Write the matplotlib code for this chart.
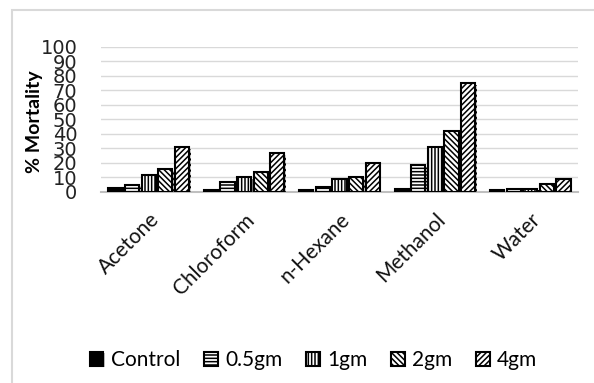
import numpy as np
import matplotlib.pyplot as plt
import matplotlib.patheffects as pe
from matplotlib.patches import Rectangle

# ===== DONNÉES =====
solvants = ["Acetone", "Chloroform", "n-Hexane", "Methanol", "Water"]
doses = ["Control", "0.5gm", "1gm", "2gm", "4gm"]
control = [2.5, 1, 1.2, 2, 0.8]
dose_05 = [4.8, 6.4, 3, 18, 2]
dose_1 = [11.7, 10, 8.8, 30.4, 2]
dose_2 = [15.4, 13.5, 10, 41.7, 5]
dose_4 = [30.6, 26.7, 20, 75, 8.3]
yticks = list(range(0, 101, 10))
# ===================

series = [control, dose_05, dose_1, dose_2, dose_4]
hachures = [None, "-----", "|||||", "\\\\\\\\\\\\", "//////"]

plt.rcParams["hatch.linewidth"] = 1.1

fig = plt.figure(figsize=(5.94, 3.83), dpi=100)
ax = fig.add_axes([0.170, 0.500, 0.803, 0.378])

ombre = [pe.SimplePatchShadow(offset=(1.2, -1.2), alpha=0.25), pe.Normal()]

x = np.arange(len(solvants))
w = 0.15
pas = 0.174
for i, (vals, h) in enumerate(zip(series, hachures)):
    pos = x + (i - 2) * pas
    if h is None:
        bars = ax.bar(pos, vals, w, color="black", edgecolor="black",
                      linewidth=1.5, label=doses[i], zorder=3)
    else:
        bars = ax.bar(pos, vals, w, color="white", edgecolor="black", hatch=h,
                      linewidth=1.5, label=doses[i], zorder=3)
    for b in bars:
        b.set_path_effects(ombre)

ax.set_xlim(-0.5, len(solvants) - 0.5)
ax.set_ylim(0, 100)
ax.set_yticks(yticks)
ax.set_yticklabels([str(t) for t in yticks], fontsize=14, color="#222222")
ax.grid(axis="y", color="#d9d9d9", linewidth=1, zorder=0)
for s in ["top", "right", "left"]:
    ax.spines[s].set_visible(False)
ax.spines["bottom"].set_color("#bfbfbf")
ax.spines["bottom"].set_linewidth(1.5)
ax.tick_params(axis="y", length=0, pad=17)
ax.tick_params(axis="x", length=0, pad=13)

ax.set_xticks(x)
ax.set_xticklabels(solvants, rotation=45, ha="right", va="top",
                   rotation_mode="anchor", fontsize=15, family="Lato",
                   color="#111111")

ax.set_ylabel("% Mortality", fontsize=14, fontweight="bold", family="Lato")
ax.yaxis.set_label_coords(-0.122, 0.485)

fig.legend(loc="center", bbox_to_anchor=(0.528, 0.06), ncol=5, frameon=False,
           prop={"family": "Lato", "size": 15}, handlelength=0.65,
           handleheight=0.65, handletextpad=0.35, columnspacing=1.15)

# cadre du graphique
fig.add_artist(Rectangle((12 / 594, -0.1), 1.0, 1.1 - 10 / 383,
                         transform=fig.transFigure, fill=False,
                         edgecolor="#d9d9d9", linewidth=1.5))

plt.savefig("out.png", dpi=100)
